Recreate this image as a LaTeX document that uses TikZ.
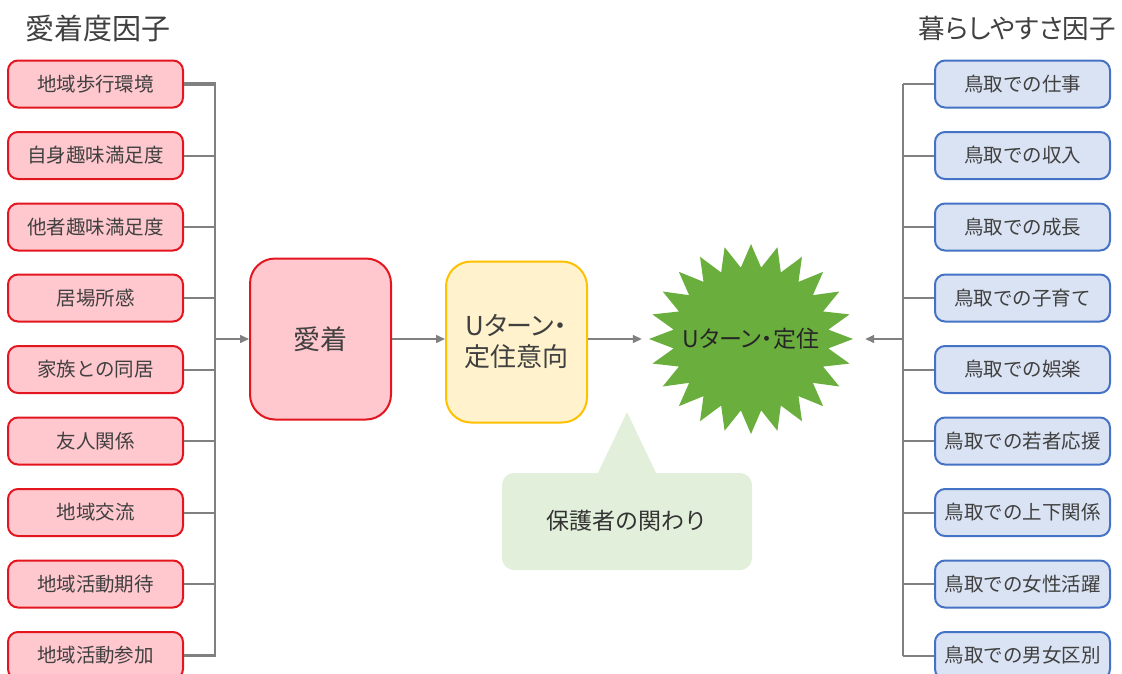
\documentclass[tikz,border=0pt]{standalone}
\usepackage{fontspec}
\setmainfont{Noto Sans CJK JP}
\newfontfamily\paltfont[RawFeature={+palt}]{Noto Sans CJK JP}
\usetikzlibrary{arrows.meta,shapes.geometric}
\definecolor{pinkfill}{HTML}{FFC7CE}
\definecolor{redline}{HTML}{E3151E}
\definecolor{bluefill}{HTML}{DAE3F3}
\definecolor{blueline}{HTML}{4472C4}
\definecolor{yelfill}{HTML}{FFF2CC}
\definecolor{yelline}{HTML}{FFC000}
\definecolor{stargreen}{HTML}{6AAE3E}
\definecolor{callgreen}{HTML}{E2EFDA}
\definecolor{linegray}{HTML}{808080}
\definecolor{txtgray}{HTML}{404040}
\begin{document}
\begin{tikzpicture}[x=1pt,y=-1pt,
  factor/.style={rounded corners=10pt, line width=2pt, minimum width=175pt, minimum height=47pt,
     inner sep=0pt, text=txtgray, font=\fontsize{19.5}{23}\selectfont},
  lbox/.style={factor, fill=pinkfill, draw=redline},
  rbox/.style={factor, fill=bluefill, draw=blueline},
  bigbox/.style={rounded corners=25pt, line width=2pt, minimum width=141pt, minimum height=161pt,
     inner sep=0pt, text=txtgray, align=center, font=\fontsize{26}{31}\selectfont},
  conn/.style={draw=linegray, line width=2pt},
  arr/.style={conn, -{Triangle[length=9pt,width=8pt]}},
  title/.style={text=txtgray, inner sep=0pt, font=\fontsize{29}{34}\selectfont}
]
\useasboundingbox (0,0) rectangle (1122,673);

% titles
\node[title, anchor=west] (ltitle) at (25,28) {愛着度因子};
\node[title, anchor=east, font=\fontsize{26.5}{31}\selectfont] (rtitle) at (1116,28) {\paltfont 暮らしやすさ因子};

% left factors
\node[lbox] (l1) at (95.5,84) {地域歩行環境};
\node[lbox] (l2) at (95.5,155.5) {自身趣味満足度};
\node[lbox] (l3) at (95.5,227) {他者趣味満足度};
\node[lbox] (l4) at (95.5,298) {居場所感};
\node[lbox] (l5) at (95.5,369.5) {家族との同居};
\node[lbox] (l6) at (95.5,441) {友人関係};
\node[lbox] (l7) at (95.5,512.5) {地域交流};
\node[lbox] (l8) at (95.5,584) {地域活動期待};
\node[lbox] (l9) at (95.5,655.5) {地域活動参加};

% right factors
\node[rbox] (r1) at (1022.5,84) {鳥取での仕事};
\node[rbox] (r2) at (1022.5,155.5) {鳥取での収入};
\node[rbox] (r3) at (1022.5,227) {鳥取での成長};
\node[rbox] (r4) at (1022.5,298) {鳥取での子育て};
\node[rbox] (r5) at (1022.5,369.5) {鳥取での娯楽};
\node[rbox] (r6) at (1022.5,441) {鳥取での若者応援};
\node[rbox] (r7) at (1022.5,512.5) {鳥取での上下関係};
\node[rbox] (r8) at (1022.5,584) {鳥取での女性活躍};
\node[rbox] (r9) at (1022.5,655.5) {鳥取での男女区別};

% central nodes
\node[bigbox, fill=pinkfill, draw=redline, font=\fontsize{27}{32}\selectfont] (aichaku) at (320.5,339) {愛着};
\node[bigbox, fill=yelfill, draw=yelline] (intent) at (516.5,342) {\paltfont Uターン・\\\paltfont 定住意向};

% starburst
\fill[stargreen] plot[samples at={0,...,47}, variable=\k]
  ({751 + (mod(\k,2)==0 ? 102 : 78)*cos(90+7.5*\k)}, {339 - (mod(\k,2)==0 ? 95 : 72)*sin(90+7.5*\k)}) -- cycle;
\node[ellipse, minimum width=202pt, minimum height=188pt, inner sep=0pt, text=black!85,
  font=\fontsize{23}{27}\selectfont] (burst) at (751,339) {\paltfont Uターン・定住};

% callout
\fill[callgreen, rounded corners=12pt] (502,473) rectangle (752,570);
\fill[callgreen] (597,475) -- (627,412) -- (657,475) -- cycle;
\node[text=black!80, font=\fontsize{23}{27}\selectfont, inner sep=0pt] (parent) at (627,521) {保護者の関わり};

% buses
\coordinate (lbus) at (215,339);
\coordinate (rbus) at (903,339);
\foreach \i in {2,...,8} {
  \draw[conn] (l\i.east) -- (l\i.east -| lbus);
}
\draw[conn, line width=3.5pt] (l1.east) -- ([xshift=1pt]l1.east -| lbus);
\draw[conn, line width=3.5pt] (l9.east) -- ([xshift=1pt]l9.east -| lbus);
\draw[conn] (l1.east -| lbus) -- (l9.east -| lbus);
\foreach \i in {1,...,9} {
  \draw[conn] (r\i.west) -- (r\i.west -| rbus);
}
\draw[conn] (r1.west -| rbus) -- (r9.west -| rbus);

% arrows
\draw[arr, line width=1.5pt] (lbus) -- (aichaku.west);
\draw[arr, line width=1.5pt] (aichaku.east) -- (intent.west |- aichaku.east);
\draw[arr, line width=1.5pt, shorten >=8pt] (intent.east |- burst.west) -- (burst.west);
\draw[arr, line width=1.5pt, shorten >=13pt] (rbus) -- (burst.east);
\end{tikzpicture}
\end{document}
